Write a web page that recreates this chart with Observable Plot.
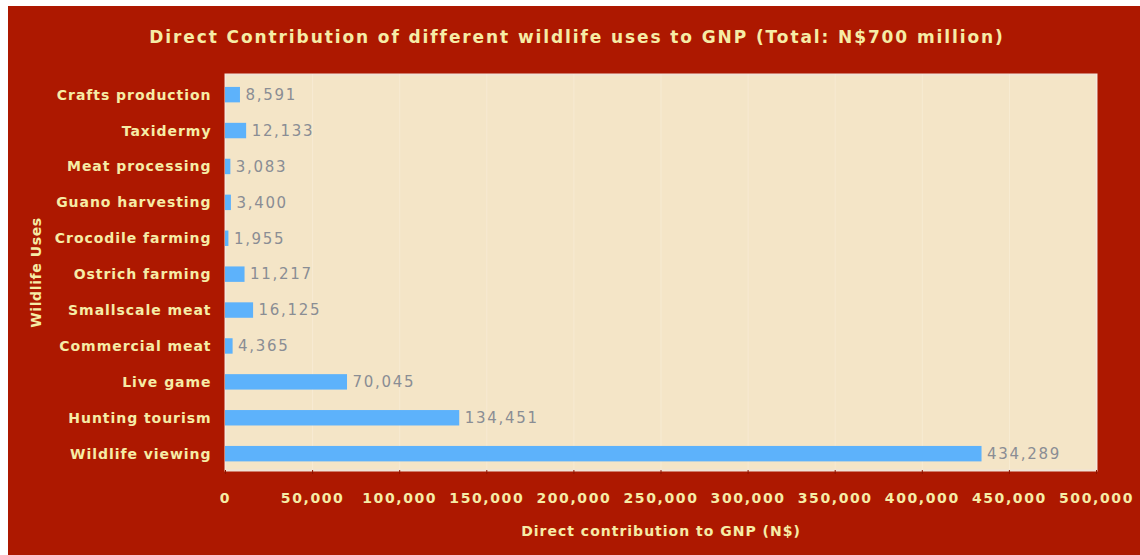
<!DOCTYPE html>
<html><head><meta charset="utf-8">
<script src="https://cdn.jsdelivr.net/npm/d3@7"></script>
<script src="https://cdn.jsdelivr.net/npm/@observablehq/plot@0.6"></script>
<style>
html,body{margin:0;padding:0;background:#fff;}
#wrap{position:absolute;left:8px;top:6px;width:1132px;height:549px;background:#ad1800;overflow:hidden;}
#title{height:60px;box-sizing:border-box;padding-top:21px;text-align:center;font:bold 17px "DejaVu Sans",sans-serif;color:#f6eca6;letter-spacing:1.9px;margin-left:6px;}
#chart svg{display:block;}
</style></head>
<body><div id="wrap"><div id="title">Direct Contribution of different wildlife uses to GNP (Total: N$700 million)</div><div id="chart"></div></div>
<script>
const categories = ["Crafts production","Taxidermy","Meat processing","Guano harvesting","Crocodile farming","Ostrich farming","Smallscale meat","Commercial meat","Live game","Hunting tourism","Wildlife viewing"];
const values = [8591,12133,3083,3400,1955,11217,16125,4365,70045,134451,434289];
const xTicks = [0,50000,100000,150000,200000,250000,300000,350000,400000,450000,500000];
const data = categories.map((c,i)=>({cat:c, v:values[i]}));
const fmt = d3.format(",");
const chart = Plot.plot({
  width:1132, height:489,
  marginLeft:217, marginRight:44, marginTop:8, marginBottom:85,
  style:{background:"transparent", fontFamily:"'DejaVu Sans',sans-serif"},
  x:{domain:[0,500000], ticks:xTicks, tickFormat:fmt, label:"Direct contribution to GNP (N$)"},
  y:{domain:categories, paddingInner:0.57, paddingOuter:0.3, align:0.6, round:false, label:"Wildlife Uses"},
  marks:[
    Plot.frame({fill:"#f4e5c7", stroke:"#f1e3d6", strokeWidth:2}),
    Plot.gridX(xTicks,{stroke:"#fffaf0", strokeOpacity:0.3}),
    Plot.barX(data,{x:"v", y:"cat", fill:"#5db2fb"}),
    Plot.text(data,{x:"v", y:"cat", text:d=>fmt(d.v), textAnchor:"start", dx:5, fill:"#8a8d94", fontSize:15}),
    Plot.axisX({ticks:xTicks, tickFormat:fmt, tickSize:4, tickPadding:19, stroke:"#8a1400", fill:"#f6eca6", fontSize:14, fontWeight:"bold", label:null}),
    Plot.axisX({ticks:[], tickSize:0, fill:"#f6eca6", fontSize:14, fontWeight:"bold", label:"Direct contribution to GNP (N$)", labelAnchor:"center", labelOffset:65, labelArrow:"none"}),
    Plot.axisY({tickSize:0, tickPadding:14, fill:"#f6eca6", fontSize:14, fontWeight:"bold", label:null}),
    Plot.axisY({ticks:[], tickSize:0, fill:"#f6eca6", fontSize:14, fontWeight:"bold", label:"Wildlife Uses", labelAnchor:"center", labelOffset:194, labelArrow:"none"})
  ]
});
const s = d3.select(chart);
s.selectAll('g[aria-label="text"] text').attr("letter-spacing","1.7px");
s.selectAll('g[aria-label="x-axis tick label"] text').attr("letter-spacing","1.6px");
s.selectAll('g[aria-label="y-axis tick label"] text').attr("letter-spacing","0.95px");
s.selectAll('g[aria-label="x-axis label"] text').attr("letter-spacing","1px");
s.selectAll('g[aria-label="y-axis label"] text').attr("letter-spacing","0.6px");
document.getElementById("chart").appendChild(chart);
</script></body></html>
